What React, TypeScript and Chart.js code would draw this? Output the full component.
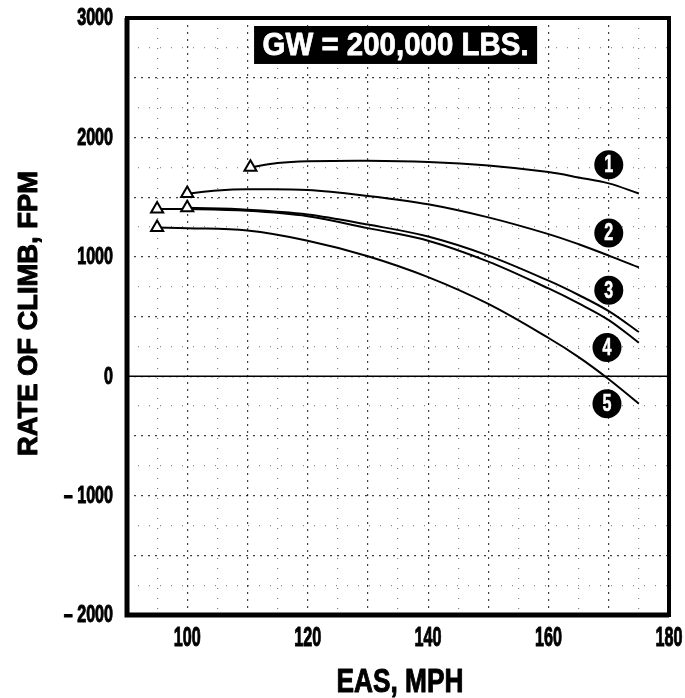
import { useEffect, useRef } from 'react';
import { Chart, registerables } from 'chart.js';

Chart.register(...registerables);

// ---- data ----
const speeds1 = [110.5, 115, 120, 130, 140, 150, 160, 165, 170, 175];
const climb1 = [1750, 1785, 1800, 1805, 1795, 1765, 1710, 1665, 1615, 1530];
const speeds2 = [100, 105, 110, 120, 130, 140, 150, 160, 165, 170, 175];
const climb2 = [1530, 1555, 1565, 1560, 1510, 1440, 1330, 1190, 1105, 1010, 910];
const speeds3 = [100, 110, 120, 130, 140, 150, 160, 165, 170, 175];
const climb3 = [1410, 1395, 1355, 1270, 1170, 1010, 800, 680, 545, 370];
const speeds4 = [95, 100, 110, 120, 130, 140, 150, 160, 165, 170, 175];
const climb4 = [1400, 1400, 1385, 1340, 1240, 1135, 960, 735, 610, 470, 280];
const speeds5 = [95, 100, 110, 120, 130, 140, 150, 160, 165, 170, 175];
const climb5 = [1245, 1240, 1220, 1135, 1005, 830, 605, 320, 160, -25, -230];

const curveNumbers = ['1', '2', '3', '4', '5'];
const numberX = [170, 170, 170, 169.7, 169.7];
const numberY = [1770, 1200, 720, 240, -230];

const xTickLabels = [100, 120, 140, 160, 180];
const yTickLabels = [3000, 2000, 1000, 0, -1000, -2000];

const titleText = 'GW = 200,000 LBS.';
const xTitle = 'EAS, MPH';
const yTitle = 'RATE OF CLIMB, FPM';

const FONT = "'Liberation Sans', Arial, sans-serif";

function drawText(
  ctx: CanvasRenderingContext2D, text: string, x: number, y: number, size: number,
  opts: { width?: number; sx?: number; color?: string; align?: CanvasTextAlign; rot?: number; heavy?: number } = {}
) {
  ctx.save();
  ctx.font = `bold ${size}px ${FONT}`;
  const w = ctx.measureText(text).width;
  const sx = opts.width ? opts.width / w : opts.sx ?? 1;
  ctx.translate(x, y);
  ctx.rotate(opts.rot ?? 0);
  ctx.scale(sx, 1);
  const color = opts.color ?? '#000';
  ctx.fillStyle = color;
  ctx.strokeStyle = color;
  ctx.lineWidth = opts.heavy ?? 1;
  ctx.lineJoin = 'round';
  ctx.textAlign = opts.align ?? 'center';
  ctx.textBaseline = 'middle';
  ctx.fillText(text, 0, 0);
  if (ctx.lineWidth > 0) ctx.strokeText(text, 0, 0);
  ctx.restore();
}

const annotate = {
  id: 'annotate',
  afterDraw(chart: any) {
    const { ctx, chartArea: a, scales } = chart;
    const xs = scales.x;
    const ys = scales.y;
    ctx.save();
    // zero line
    const y0 = ys.getPixelForValue(0);
    ctx.strokeStyle = '#000';
    ctx.lineWidth = 1.5;
    ctx.beginPath();
    ctx.moveTo(a.left, y0);
    ctx.lineTo(a.right, y0);
    ctx.stroke();
    // frame
    ctx.lineWidth = 4;
    ctx.strokeRect(a.left, a.top, a.right - a.left, a.bottom - a.top);
    ctx.lineWidth = 5;
    ctx.beginPath();
    ctx.moveTo(a.left, a.top);
    ctx.lineTo(a.left, a.bottom);
    ctx.lineTo(a.right, a.bottom);
    ctx.stroke();
    // tick labels
    yTickLabels.forEach((v) => {
      const t = v < 0 ? '\u2013 ' + Math.abs(v) : String(v);
      drawText(ctx, t, a.left - 14, ys.getPixelForValue(v) + 1, 23, { sx: 0.7, align: 'right' });
    });
    xTickLabels.forEach((v) => {
      drawText(ctx, String(v), xs.getPixelForValue(v), a.bottom + 24, 27, { sx: 0.6 });
    });
    // GW box
    const bx0 = xs.getPixelForValue(111.1);
    const bx1 = xs.getPixelForValue(158.1);
    const by0 = ys.getPixelForValue(2933);
    const by1 = ys.getPixelForValue(2615);
    ctx.fillStyle = '#000';
    ctx.fillRect(bx0, by0, bx1 - bx0, by1 - by0);
    drawText(ctx, titleText, (bx0 + bx1) / 2, (by0 + by1) / 2 + 1, 32, { width: 266, color: '#fff', heavy: 0.8 });
    // curve numbers
    curveNumbers.forEach((n, i) => {
      const cx = xs.getPixelForValue(numberX[i]);
      const cy = ys.getPixelForValue(numberY[i]);
      ctx.beginPath();
      ctx.fillStyle = '#000';
      ctx.arc(cx, cy, 14.5, 0, Math.PI * 2);
      ctx.fill();
      drawText(ctx, n, cx, cy + 1, 23, { sx: 0.7, color: '#fff', heavy: 0.6 });
    });
    // axis titles
    drawText(ctx, yTitle, 29, (a.top + a.bottom) / 2 - 3, 28, { width: 285, rot: -Math.PI / 2 });
    drawText(ctx, xTitle, (a.left + a.right) / 2 + 2, 683, 34, { width: 127 });
    ctx.restore();
  },
};

function mk(xsArr: number[], ysArr: number[]) {
  return xsArr.map((v, i) => ({ x: v, y: ysArr[i] }));
}

export default function App() {
  const ref = useRef<HTMLCanvasElement>(null);
  useEffect(() => {
    if (!ref.current) return;
    const series = [
      mk(speeds1, climb1),
      mk(speeds2, climb2),
      mk(speeds3, climb3),
      mk(speeds4, climb4),
      mk(speeds5, climb5),
    ];
    const chart = new Chart(ref.current, {
      type: 'line',
      data: {
        datasets: series.map((d, i) => ({
          label: curveNumbers[i],
          data: d,
          borderColor: '#000',
          borderWidth: 2,
          backgroundColor: '#fff',
          pointStyle: 'triangle',
          pointRadius: (c: any) => (c.dataIndex === 0 ? 7 : 0),
          pointBorderWidth: 2,
          pointBorderColor: '#000',
          pointBackgroundColor: '#fff',
          tension: 0.35,
          fill: false,
        })),
      },
      options: {
        animation: false,
        responsive: false,
        layout: { padding: { top: 18, right: 16, left: 0, bottom: 0 } },
        plugins: { legend: { display: false }, tooltip: { enabled: false } },
        scales: {
          x: {
            type: 'linear',
            min: 90,
            max: 180,
            afterFit: (s: any) => { s.height = 83; },
            ticks: { stepSize: 5, autoSkip: false, display: false },
            grid: {
              drawTicks: false,
              color: (c: any) => (c.tick && c.tick.value % 10 === 0 ? 'rgba(0,0,0,0.75)' : 'rgba(0,0,0,0.5)'),
              lineWidth: 1.2,
            },
            border: {
              display: false,
              dash: (c: any) => (c.tick && c.tick.value % 10 === 0 ? [2, 5] : [1, 9]),
            },
          },
          y: {
            type: 'linear',
            min: -2000,
            max: 3000,
            afterFit: (s: any) => { s.width = 127; },
            ticks: { stepSize: 250, autoSkip: false, display: false },
            grid: {
              drawTicks: false,
              color: (c: any) => (c.tick && c.tick.value % 500 === 0 ? 'rgba(0,0,0,0.75)' : 'rgba(0,0,0,0.45)'),
              lineWidth: 1.2,
            },
            border: {
              display: false,
              dash: (c: any) => (c.tick && c.tick.value % 500 === 0 ? [2, 5] : [1, 10]),
            },
          },
        },
      },
      plugins: [annotate],
    } as any);
    return () => chart.destroy();
  }, []);
  return (
    <div style={{ position: 'absolute', left: 0, top: 0, width: 685, height: 698, background: '#fff' }}>
      <canvas ref={ref} width={685} height={698} style={{ display: 'block' }} />
    </div>
  );
}
